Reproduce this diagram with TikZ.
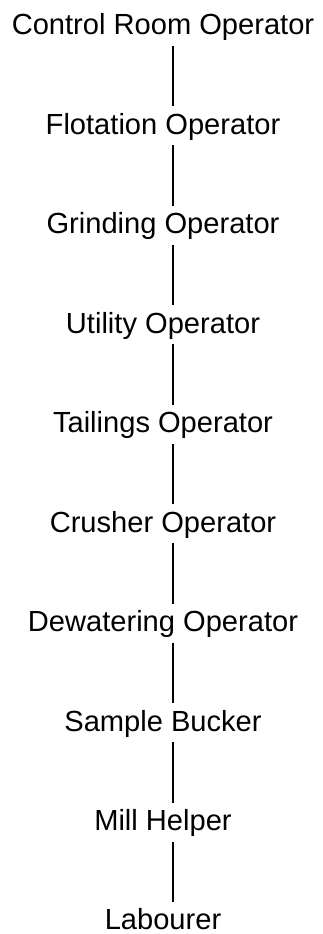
\documentclass[tikz,border=0pt]{standalone}
\usepackage{fontspec}
\setmainfont{Liberation Sans}
\begin{document}
\begin{tikzpicture}[x=1pt,y=1pt,
  role/.style={anchor=base,inner sep=0pt,font=\fontsize{29.1}{34}\selectfont},
  link/.style={line width=1.1pt,black}]
\useasboundingbox (0,0) rectangle (322,-934);
\def\cx{163}
\node[role] (n0) at (\cx,-35) {Control Room Operator};
\node[role] (n1) at (\cx,-134.4) {Flotation Operator};
\node[role] (n2) at (\cx,-233.9) {Grinding Operator};
\node[role] (n3) at (\cx,-333.3) {Utility Operator};
\node[role] (n4) at (\cx,-432.8) {Tailings Operator};
\node[role] (n5) at (\cx,-532.2) {Crusher Operator};
\node[role] (n6) at (\cx,-631.6) {Dewatering Operator};
\node[role] (n7) at (\cx,-731.1) {Sample Bucker};
\node[role] (n8) at (\cx,-830.5) {Mill Helper};
\node[role] (n9) at (\cx,-929.5) {Labourer};
\foreach \a/\b in {n0/n1,n1/n2,n2/n3,n3/n4,n4/n5,n5/n6,n6/n7,n7/n8,n8/n9}{
  \draw[link] ([xshift=10pt,yshift=-11pt]\a.base) -- ([xshift=10pt,yshift=28pt]\b.base);
}
\end{tikzpicture}
\end{document}
